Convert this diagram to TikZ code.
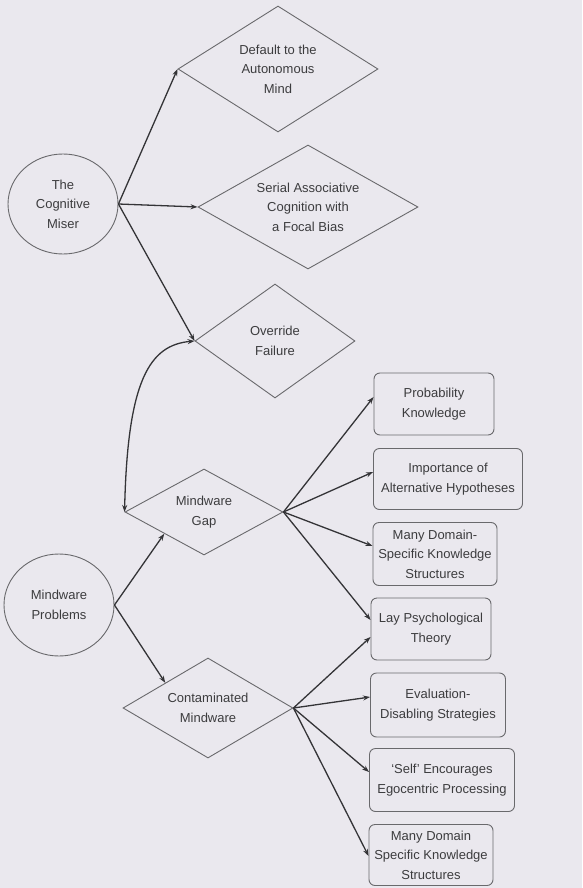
\documentclass[tikz,border=0pt]{standalone}
\usepackage{fontspec}
\setmainfont{Liberation Sans}
\usetikzlibrary{shapes.geometric,arrows.meta}
\definecolor{bgcol}{RGB}{234,232,238}
\definecolor{edgecol}{RGB}{105,105,108}
\definecolor{linecol}{RGB}{52,52,55}
\definecolor{txtcol}{RGB}{60,60,62}
\begin{document}
\begin{tikzpicture}[x=1pt,y=-1pt,
  base/.style={draw=edgecol,line width=0.9pt,text=txtcol,align=center,inner sep=0pt,
    font=\fontsize{13}{19.5}\selectfont},
  oval/.style={base,ellipse},
  dia/.style={base,diamond},
  rbox/.style={base,rectangle,rounded corners=6pt},
  conn/.style={draw=linecol,line width=1.3pt,-{Stealth[length=7pt,width=5pt]}},
  conn2/.style={draw=linecol,line width=1.3pt,{Stealth[length=7pt,width=5pt]}-{Stealth[length=7pt,width=5pt]}}
]
\useasboundingbox[fill=bgcol] (0,0) rectangle (582,888);

\node[oval,minimum width=110pt,minimum height=100pt] (miser) at (63,204) {The\\Cognitive\\Miser};
\node[oval,minimum width=110pt,minimum height=102pt] (prob) at (59,605) {Mindware\\Problems};

\node[dia,minimum width=200pt,minimum height=126pt,shape aspect=1.59] (d1) at (278,69) {Default to the\\Autonomous\\Mind};
\node[dia,minimum width=220pt,minimum height=124pt,shape aspect=1.77] (d2) at (308,207) {Serial Associative\\Cognition with\\a Focal Bias};
\node[dia,minimum width=160pt,minimum height=114pt,shape aspect=1.4] (d3) at (275,341) {Override\\Failure};
\node[dia,minimum width=158pt,minimum height=86pt,shape aspect=1.84] (gap) at (204,512) {Mindware\\Gap};
\node[dia,minimum width=170pt,minimum height=100pt,shape aspect=1.7] (cont) at (208,708) {Contaminated\\Mindware};

\node[rbox,minimum width=120pt,minimum height=62pt] (b1) at (434,404) {Probability\\Knowledge};
\node[rbox,minimum width=149pt,minimum height=61pt] (b2) at (448,479) {Importance of\\Alternative Hypotheses};
\node[rbox,minimum width=124pt,minimum height=63pt] (b3) at (435,554) {Many Domain-\\Specific Knowledge\\Structures};
\node[rbox,minimum width=120pt,minimum height=62pt] (b4) at (431,629) {Lay Psychological\\Theory};
\node[rbox,minimum width=135pt,minimum height=64pt] (b5) at (438,705) {Evaluation-\\Disabling Strategies};
\node[rbox,minimum width=145pt,minimum height=63pt] (b6) at (442,780) {`Self' Encourages\\Egocentric Processing};
\node[rbox,minimum width=124pt,minimum height=61pt] (b7) at (431,855) {Many Domain\\Specific Knowledge\\Structures};

\draw[conn] (miser.east) -- (d1.west);
\draw[conn] (miser.east) -- (d2.west);
\draw[conn] (miser.east) -- (d3.west);

\draw[conn2] (gap.west) .. controls +(3,-132) and +(-45,4) .. (d3.west);

\draw[conn] (prob.east) -- (gap.south west);
\draw[conn] (prob.east) -- (cont.north west);

\draw[conn] (gap.east) -- ([yshift=7pt]b1.west);
\draw[conn] (gap.east) -- ([yshift=7pt]b2.west);
\draw[conn] (gap.east) -- ([yshift=8pt]b3.west);
\draw[conn] (gap.east) -- ([yshift=9pt]b4.west);

\draw[conn] (cont.east) -- ([yshift=-8pt]b4.west);
\draw[conn] (cont.east) -- ([yshift=8pt]b5.west);
\draw[conn] (cont.east) -- ([yshift=8pt]b6.west);
\draw[conn] (cont.east) -- ([yshift=-1pt]b7.west);
\end{tikzpicture}
\end{document}
